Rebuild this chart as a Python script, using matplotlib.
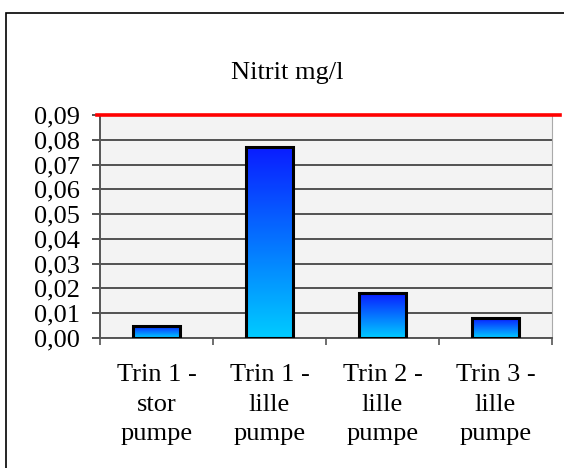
import numpy as np
import matplotlib.pyplot as plt
from matplotlib.colors import LinearSegmentedColormap
from matplotlib.patches import Rectangle

categories = ["Trin 1 -\nstor\npumpe", "Trin 1 -\nlille\npumpe",
              "Trin 2 -\nlille\npumpe", "Trin 3 -\nlille\npumpe"]
values = [0.005, 0.077, 0.018, 0.008]
limit = 0.09
yticks = [0.00, 0.01, 0.02, 0.03, 0.04, 0.05, 0.06, 0.07, 0.08, 0.09]

plt.rcParams['font.family'] = ['Liberation Serif', 'DejaVu Serif']

fig = plt.figure(figsize=(5.64, 4.68), dpi=100)
ax = fig.add_axes([100 / 564, 1 - 338 / 468, 452 / 564, 223 / 468])

# border round the chart area
fig.patches.append(Rectangle((6 / 564, -0.01), 1.0, 1 - 13 / 468 + 0.01,
                             transform=fig.transFigure, fill=False,
                             edgecolor='black', linewidth=1.2))

ax.set_facecolor('#f3f3f3')
x = np.arange(len(values))
bars = ax.bar(x, values, width=0.41, color='none', edgecolor='black',
              linewidth=2.2, zorder=3)

# gradient fill: dark blue at top, cyan at bottom
cmap = LinearSegmentedColormap.from_list('grad', ['#00ccff', '#0a1dff'])
for b in bars:
    bx, by = b.get_x(), b.get_y()
    w, h = b.get_width(), b.get_height()
    grad = np.linspace(0, 1, 256).reshape(-1, 1)
    im = ax.imshow(grad, cmap=cmap, origin='lower', aspect='auto',
                   extent=[bx, bx + w, by, by + h], zorder=2)
    im.set_clip_path(b)

ax.set_xlim(-0.5, len(values) - 0.5)
ax.set_ylim(0, limit)
ax.set_yticks(yticks)
ax.set_yticklabels([f"{v:.2f}".replace('.', ',') for v in yticks])
ax.yaxis.grid(True, color='#444444', linewidth=1.3, zorder=1)
ax.set_axisbelow(True)

ax.set_xticks(np.arange(len(values) + 1) - 0.5)
ax.set_xticklabels([])
ax.set_xticks(x, minor=True)
ax.set_xticklabels(categories, minor=True, fontsize=19, linespacing=1.42)
ax.tick_params(axis='x', which='minor', length=0, pad=19)
ax.tick_params(axis='x', which='major', length=5, width=1.2, color='#555555')
ax.tick_params(axis='y', length=6, width=1.3, color='#444444', labelsize=19, pad=8.5)

for s in ['left', 'bottom']:
    ax.spines[s].set_color('#555555')
    ax.spines[s].set_linewidth(1.4)
ax.spines['right'].set_color('#aaaaaa')
ax.spines['top'].set_visible(False)

# red limit line, running past both ends of the plot
ax.plot([-0.53, len(values) - 0.43], [limit, limit], color='#ff0000',
        linewidth=2.6, clip_on=False, zorder=5)

fig.text(0.51, 1 - 73 / 468, "Nitrit mg/l", ha='center', va='center', fontsize=19)

fig.savefig('out.png', dpi=100)
